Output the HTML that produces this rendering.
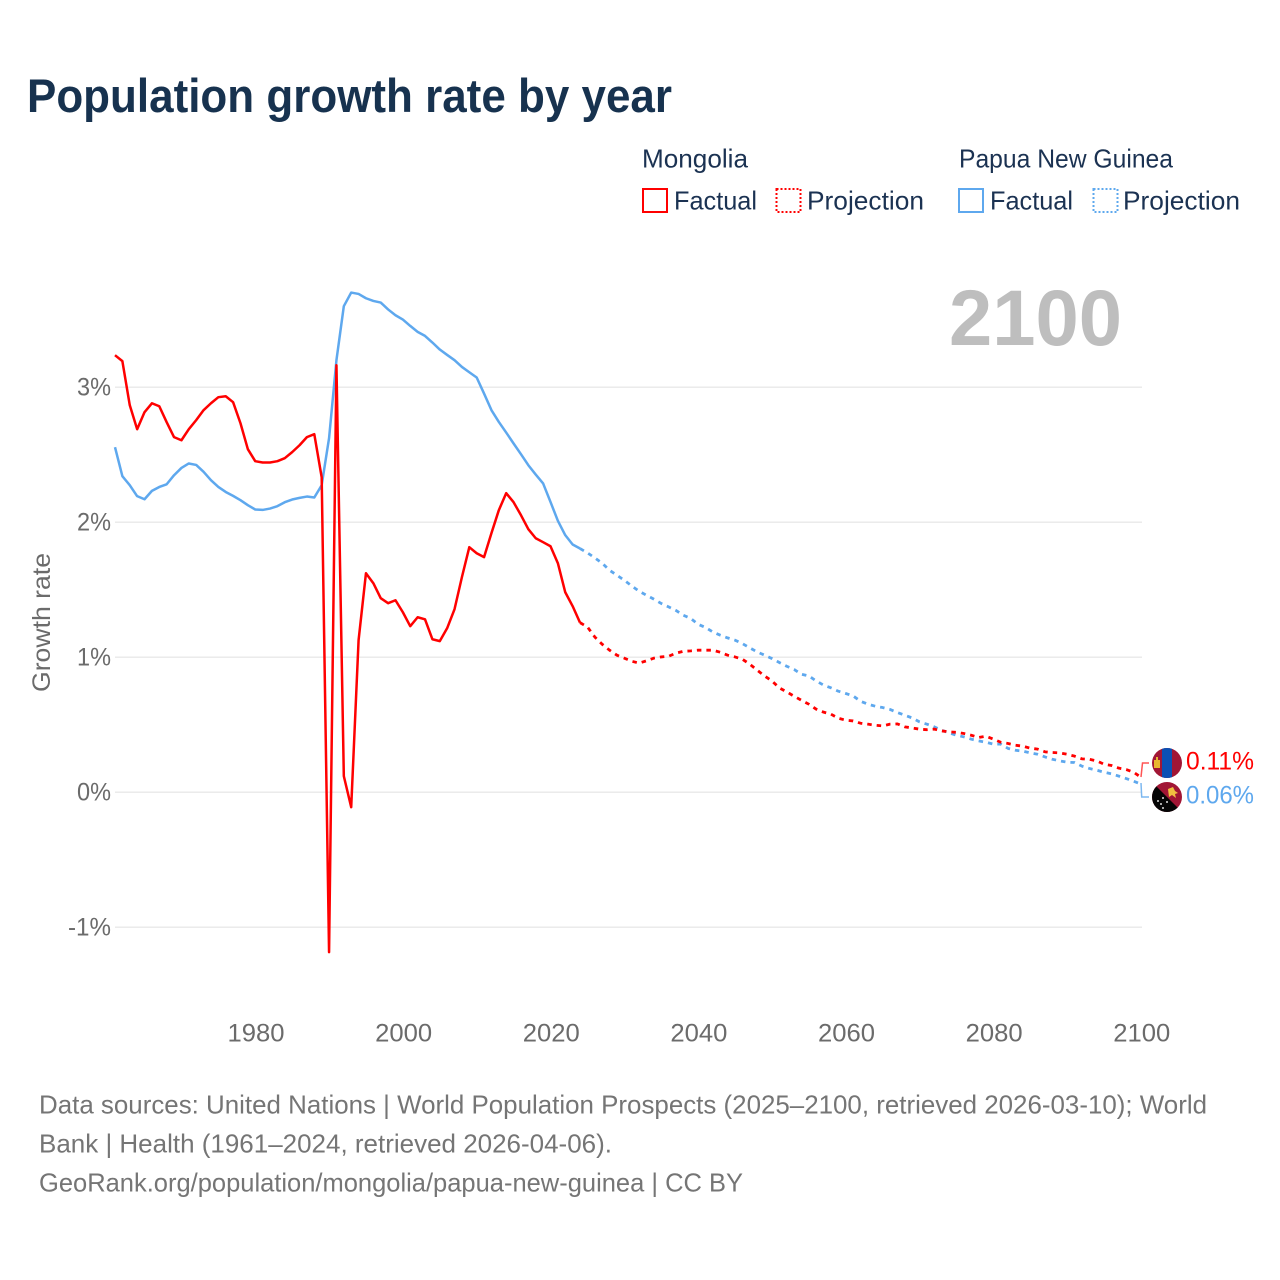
<!DOCTYPE html>
<html lang="en">
<head>
<meta charset="utf-8">
<title>Population growth rate by year</title>
<style>
html,body{margin:0;padding:0;background:#fff;width:1280px;height:1280px;overflow:hidden}
svg{display:block;font-family:"Liberation Sans",sans-serif}
</style>
</head>
<body>
<svg id="chart" xmlns="http://www.w3.org/2000/svg" width="1280" height="1280" viewBox="0 0 1280 1280">
  <rect width="1280" height="1280" fill="#fff"/>
  <text x="27" y="112" font-size="47" font-weight="700" fill="#17324f" textLength="645" lengthAdjust="spacingAndGlyphs">Population growth rate by year</text>

  <g font-size="26" fill="#1b3252">
    <text x="642" y="167.5" textLength="106" lengthAdjust="spacingAndGlyphs">Mongolia</text>
    <text x="959" y="167.5" textLength="214" lengthAdjust="spacingAndGlyphs">Papua New Guinea</text>
    <rect x="643" y="189" width="24" height="23" fill="none" stroke="#ff0000" stroke-width="2"/>
    <text x="674" y="209.5" textLength="83" lengthAdjust="spacingAndGlyphs">Factual</text>
    <rect x="776.5" y="189" width="24" height="23" fill="none" stroke="#ff0000" stroke-width="2" stroke-dasharray="2 2"/>
    <text x="807" y="209.5" textLength="117" lengthAdjust="spacingAndGlyphs">Projection</text>
    <rect x="959" y="189" width="24" height="23" fill="none" stroke="#5ea8ee" stroke-width="2"/>
    <text x="990" y="209.5" textLength="83" lengthAdjust="spacingAndGlyphs">Factual</text>
    <rect x="1093.5" y="189" width="24" height="23" fill="none" stroke="#5ea8ee" stroke-width="2" stroke-dasharray="2 2"/>
    <text x="1123" y="209.5" textLength="117" lengthAdjust="spacingAndGlyphs">Projection</text>
  </g>

  <text x="949" y="345" font-size="79" font-weight="700" fill="#bebebe" textLength="173" lengthAdjust="spacingAndGlyphs">2100</text>

  <g id="grid"></g>
  <g id="yticks"></g>
  <g id="xticks"></g>
  <text transform="translate(50,692) rotate(-90)" font-size="25" fill="#6b6b6b" textLength="139" lengthAdjust="spacingAndGlyphs">Growth rate</text>
  <g id="series"></g>

  <g id="end-labels">
    <polyline points="1141,777 1142.5,763 1149,763" fill="none" stroke="#ff5555" stroke-width="1.5"/>
    <polyline points="1141,783 1141.7,797 1149,797" fill="none" stroke="#7db8f0" stroke-width="1.5"/>
    <g>
      <clipPath id="clipM"><circle cx="1167" cy="763" r="15"/></clipPath>
      <g clip-path="url(#clipM)">
        <rect x="1152" y="748" width="30" height="30" fill="#a11635"/>
        <rect x="1162" y="748" width="10" height="30" fill="#0a50b4"/>
        <rect x="1154" y="760" width="6" height="8" fill="#e8b830"/>
        <rect x="1156" y="757" width="2" height="3" fill="#e8b830"/>
      </g>
    </g>
    <g>
      <clipPath id="clipP"><circle cx="1167" cy="797" r="15"/></clipPath>
      <g clip-path="url(#clipP)">
        <rect x="1152" y="782" width="30" height="30" fill="#a11635"/>
        <polygon points="1152,782 1182,812 1152,812" fill="#050505"/>
        <polygon points="1168,789 1173,787 1175,791 1178,793 1175,794 1176,798 1172,795 1169,797" fill="#f0c040"/>
        <circle cx="1158" cy="801" r="1" fill="#ddd"/>
        <circle cx="1163" cy="798" r="1" fill="#ddd"/>
        <circle cx="1161" cy="804" r="1" fill="#ddd"/>
        <circle cx="1167" cy="802" r="1" fill="#ddd"/>
        <circle cx="1163" cy="808" r="1" fill="#ddd"/>
      </g>
    </g>
    <text x="1186" y="769.5" font-size="25" fill="#ff0000" textLength="68" lengthAdjust="spacingAndGlyphs">0.11%</text>
    <text x="1186" y="803.5" font-size="25" fill="#5ea8ee" textLength="68" lengthAdjust="spacingAndGlyphs">0.06%</text>
  </g>

  <g font-size="26" fill="#757575">
    <text x="39" y="1113.5" textLength="1168" lengthAdjust="spacingAndGlyphs">Data sources: United Nations | World Population Prospects (2025–2100, retrieved 2026-03-10); World</text>
    <text x="39" y="1152.5" textLength="573" lengthAdjust="spacingAndGlyphs">Bank | Health (1961–2024, retrieved 2026-04-06).</text>
    <a><text x="39" y="1191.5" textLength="704" lengthAdjust="spacingAndGlyphs">GeoRank.org/population/mongolia/papua-new-guinea | CC BY</text></a>
  </g>
</svg>
<script>
const xTickYears = [1980, 2000, 2020, 2040, 2060, 2080, 2100];
const yTickValues = [-1, 0, 1, 2, 3];
const yTickLabels = ['-1%', '0%', '1%', '2%', '3%'];
const startFactual = 1961;
const startProjection = 2024;

const mongoliaFactual = [3.237,3.193,2.867,2.689,2.815,2.881,2.859,2.741,2.63,2.607,2.689,2.756,2.83,2.881,2.926,2.933,2.889,2.733,2.541,2.452,2.442,2.442,2.452,2.474,2.519,2.57,2.63,2.652,2.333,-1.185,3.163,0.119,-0.111,1.126,1.622,1.548,1.437,1.4,1.422,1.333,1.23,1.296,1.281,1.133,1.119,1.215,1.356,1.593,1.815,1.77,1.741,1.919,2.089,2.215,2.148,2.052,1.948,1.881,1.852,1.822,1.696,1.481,1.378,1.256];

const mongoliaProjection = [1.256,1.224,1.15,1.096,1.052,1.015,0.993,0.97,0.956,0.973,0.993,1.002,1.007,1.03,1.044,1.047,1.052,1.052,1.052,1.037,1.015,1.002,0.985,0.948,0.904,0.861,0.824,0.773,0.743,0.711,0.681,0.652,0.615,0.593,0.578,0.548,0.533,0.528,0.511,0.504,0.496,0.491,0.504,0.506,0.484,0.476,0.467,0.463,0.467,0.454,0.447,0.444,0.435,0.422,0.405,0.415,0.393,0.37,0.361,0.348,0.341,0.326,0.319,0.299,0.294,0.291,0.281,0.267,0.247,0.244,0.232,0.207,0.198,0.178,0.168,0.148,0.11];

const pngFactual = [2.556,2.341,2.274,2.193,2.17,2.232,2.261,2.281,2.348,2.402,2.435,2.424,2.373,2.311,2.261,2.224,2.195,2.163,2.126,2.094,2.091,2.101,2.119,2.148,2.168,2.18,2.19,2.183,2.274,2.622,3.2,3.6,3.701,3.691,3.659,3.639,3.627,3.576,3.533,3.501,3.454,3.41,3.38,3.331,3.279,3.239,3.2,3.15,3.111,3.072,2.953,2.83,2.743,2.664,2.583,2.504,2.422,2.353,2.287,2.15,2.01,1.904,1.835,1.805];

const pngProjection = [1.805,1.773,1.736,1.696,1.644,1.607,1.57,1.528,1.489,1.459,1.43,1.398,1.373,1.346,1.311,1.287,1.244,1.22,1.187,1.163,1.143,1.126,1.101,1.069,1.039,1.015,0.99,0.961,0.933,0.909,0.874,0.861,0.824,0.793,0.773,0.748,0.731,0.713,0.674,0.652,0.637,0.627,0.613,0.59,0.57,0.55,0.521,0.504,0.484,0.459,0.439,0.422,0.41,0.393,0.38,0.37,0.356,0.356,0.324,0.311,0.304,0.291,0.281,0.261,0.244,0.232,0.222,0.22,0.193,0.176,0.163,0.148,0.136,0.119,0.101,0.081,0.06];

const SVG_NS = 'http://www.w3.org/2000/svg';
function xScale(year) { return 115 + (year - 1961) * 1026 / 139; }
function yScale(v) { return 792.2 - v * 135; }
function pathPoints(values, start) {
  return values.map(function (v, i) {
    return xScale(start + i).toFixed(2) + ',' + yScale(v).toFixed(2);
  }).join(' ');
}

const gridGroup = document.getElementById('grid');
const yGroup = document.getElementById('yticks');
yTickValues.forEach(function (v, i) {
  const line = document.createElementNS(SVG_NS, 'line');
  
  
  line.setAttribute('x1', 115);
  line.setAttribute('x2', 1142);
  line.setAttribute('y1', yScale(v));
  line.setAttribute('y2', yScale(v));
  line.setAttribute('stroke', '#e8e8e8');
  line.setAttribute('stroke-width', '1.4');
  gridGroup.appendChild(line);

  const label = document.createElementNS(SVG_NS, 'text');
  
  
  label.setAttribute('x', 111);
  label.setAttribute('y', yScale(v) + 8.5);
  label.setAttribute('text-anchor', 'end');
  label.setAttribute('font-size', '25');
  label.setAttribute('fill', '#6b6b6b');
  label.setAttribute('textLength', v < 0 ? 43 : 34);
  label.setAttribute('lengthAdjust', 'spacingAndGlyphs');
  label.textContent = yTickLabels[i];
  yGroup.appendChild(label);
});

const xGroup = document.getElementById('xticks');
xTickYears.forEach(function (year) {
  const label = document.createElementNS(SVG_NS, 'text');
  
  
  label.setAttribute('x', xScale(year) + 0.8);
  label.setAttribute('y', 1041.5);
  label.setAttribute('text-anchor', 'middle');
  label.setAttribute('font-size', '25');
  label.setAttribute('fill', '#6b6b6b');
  label.setAttribute('textLength', 57);
  label.setAttribute('lengthAdjust', 'spacingAndGlyphs');
  label.textContent = String(year);
  xGroup.appendChild(label);
});

const seriesGroup = document.getElementById('series');
function drawLine(values, start, color, dashed, name) {
  const line = document.createElementNS(SVG_NS, 'polyline');
  
  
  line.setAttribute('points', pathPoints(values, start));
  line.setAttribute('fill', 'none');
  line.setAttribute('stroke', color);
  line.setAttribute('stroke-width', dashed ? '2.8' : '2.5');
  line.setAttribute('stroke-linejoin', 'round');
  if (dashed) {
    line.setAttribute('stroke-dasharray', '4.5 5');
  }
  seriesGroup.appendChild(line);
}
drawLine(pngFactual, startFactual, '#5ea8ee', false, 'line-png-factual');
drawLine(pngProjection, startProjection, '#5ea8ee', true, 'line-png-projection');
drawLine(mongoliaFactual, startFactual, '#ff0000', false, 'line-mongolia-factual');
drawLine(mongoliaProjection, startProjection, '#ff0000', true, 'line-mongolia-projection');
</script>
</body>
</html>
